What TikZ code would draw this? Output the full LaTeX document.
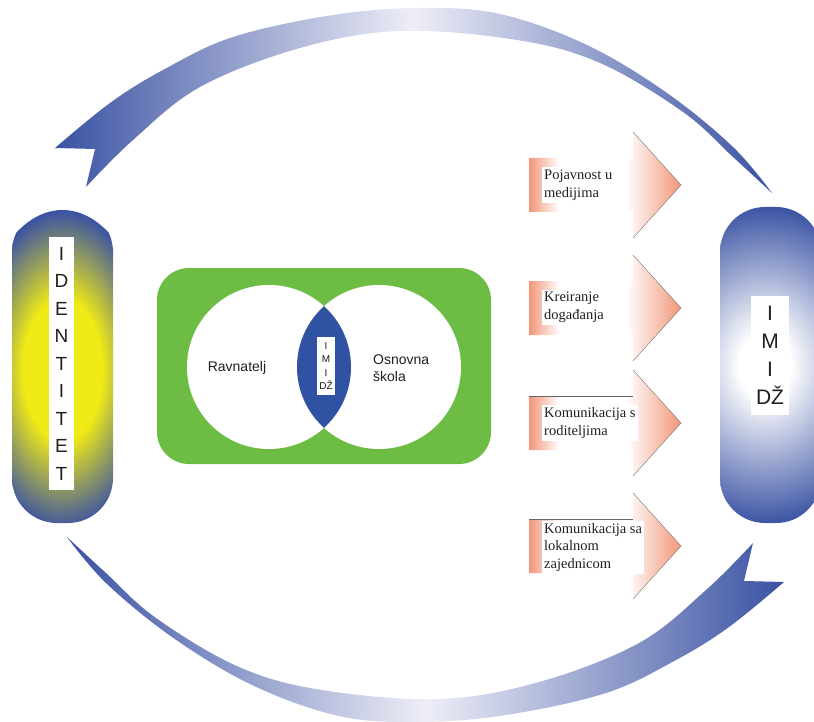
\documentclass[tikz,border=0pt]{standalone}
\usepackage{fontspec}
\setmainfont{Liberation Serif}
\newfontfamily\arialf{Liberation Sans}
\definecolor{bblue}{RGB}{58,82,163}
\definecolor{lav}{RGB}{238,238,247}
\definecolor{idyellow}{RGB}{240,234,22}
\definecolor{gbox}{RGB}{109,189,69}
\definecolor{lensblue}{RGB}{47,82,162}
\definecolor{salm}{RGB}{242,150,120}
\definecolor{txt}{RGB}{35,31,32}
\pgfdeclareradialshading{idsh}{\pgfpointorigin}{color(0bp)=(idyellow); color(11bp)=(idyellow); color(25bp)=(bblue); color(50bp)=(bblue)}
\pgfdeclareradialshading{imsh}{\pgfpointorigin}{color(0bp)=(white); color(5bp)=(white); color(25bp)=(bblue); color(50bp)=(bblue)}
\pgfdeclarehorizontalshading{orsh}{100bp}{color(0bp)=(salm); color(25bp)=(salm); color(35bp)=(white); color(57bp)=(white); color(75bp)=(salm); color(100bp)=(salm)}
\tikzset{
  vbox/.style={fill=white, inner sep=0pt, align=center, text=txt},
  abox/.style={fill=white, inner xsep=2pt, inner ysep=2.5pt, align=left, anchor=west, text=txt, font=\fontsize{14.5}{17.5}\selectfont},
  stext/.style={text=txt, font=\arialf\fontsize{14}{17}\selectfont, inner sep=0pt},
}
\begin{document}
\begin{tikzpicture}[x=1pt,y=-1pt]
\path[use as bounding box] (0,0) rectangle (814,722);
\clip (0,0) rectangle (814,722);
% big curved arrows
\foreach \r in {0,180}{
\begin{scope}[rotate around={\r:(419.5,365)}]
\shade[left color=bblue, right color=bblue, middle color=lav]
  (95,149) -- (55,148)
  -- plot[smooth, tension=0.6] coordinates {(55,148) (110,103) (163,70) (233,37) (333,15) (420,8) (500,14) (587,45) (667,93) (733,147) (772,193)}
  -- plot[smooth, tension=0.6] coordinates {(772,193) (733,157) (683,112) (600,63) (517,40) (400,31) (300,48) (200,87) (133,140) (86,187)}
  -- cycle;
\end{scope}
}
% left pill
\begin{scope}
\clip[rounded corners=45] (12,207) rectangle (113,523);
\shade[shading=idsh] (62.5,370) ellipse (90 and 160);
\end{scope}
\node[vbox, minimum width=25, minimum height=253, font=\arialf\fontsize{19}{27.5}\selectfont] (ident) at (61.5,363.5) {I\\D\\E\\N\\T\\I\\T\\E\\T};
% right pill
\begin{scope}
\clip[rounded corners=45] (720,207) rectangle (821,523);
\shade[shading=imsh] (765,365) ellipse (130 and 160);
\end{scope}
\node[vbox, minimum width=38, minimum height=119, font=\arialf\fontsize{21}{28}\selectfont] (imidz) at (770,355.5) {I\\M\\I\\DŽ};
% green box with venn
\fill[gbox, rounded corners=32] (157,268) rectangle (491,464);
\fill[white] (269,367) circle (82);
\fill[white] (379,367) circle (82);
\begin{scope}
\clip (269,367) circle (82);
\fill[lensblue] (379,367) circle (82);
\end{scope}
\node[vbox, minimum width=18, minimum height=58, font=\arialf\fontsize{10}{13.5}\selectfont] (lens) at (326,366) {I\\M\\I\\DŽ};
\node[stext] (ravn) at (237,368) {Ravnatelj};
\node[stext, anchor=west, align=left] (osn) at (373,368.5) {Osnovna\\škola};
% orange arrows
\foreach \cy in {185,308,423,546}{
\shade[shading=orsh] (529,{\cy-27}) -- (633,{\cy-27}) -- (633,{\cy-53}) -- (681,\cy) -- (633,{\cy+53}) -- (633,{\cy+27}) -- (529,{\cy+27}) -- cycle;
\draw[black!55, line width=0.4pt] (633,{\cy-53}) -- (681,\cy) -- (633,{\cy+53});
}
\draw[black!60, line width=0.5pt] (529,396) -- (633,396);
\draw[black!60, line width=0.5pt] (529,519) -- (633,519);
\node[abox] (a1) at (542,185) {Pojavnost u\\medijima};
\node[abox] (a2) at (542,307.5) {Kreiranje\\događanja};
\node[abox] (a3) at (542,423) {Komunikacija s\\roditeljima};
\node[abox] (a4) at (542,547.5) {Komunikacija sa\\lokalnom\\zajednicom};
\end{tikzpicture}
\end{document}
